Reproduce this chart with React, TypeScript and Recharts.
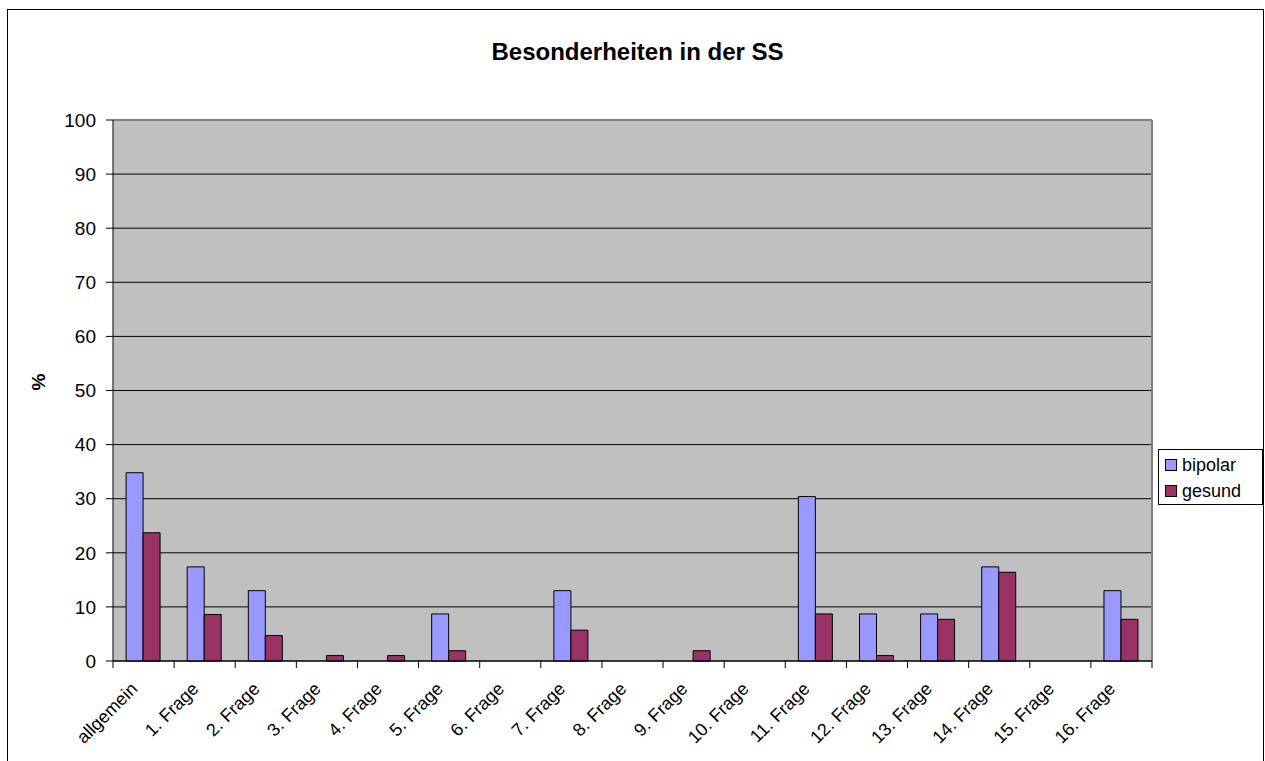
import React from "react";
import { BarChart, Bar, XAxis, YAxis, CartesianGrid } from "recharts";

// categories and values (percent)
const categories = [
  "allgemein",
  "1. Frage",
  "2. Frage",
  "3. Frage",
  "4. Frage",
  "5. Frage",
  "6. Frage",
  "7. Frage",
  "8. Frage",
  "9. Frage",
  "10. Frage",
  "11. Frage",
  "12. Frage",
  "13. Frage",
  "14. Frage",
  "15. Frage",
  "16. Frage",
];

const bipolar = [34.8, 17.4, 13.0, 0, 0, 8.7, 0, 13.0, 0, 0, 0, 30.4, 8.7, 8.7, 17.4, 0, 13.0];
const gesund = [23.7, 8.6, 4.7, 1.0, 1.0, 1.9, 0, 5.7, 0, 1.9, 0, 8.7, 1.0, 7.7, 16.4, 0, 7.7];

const yTicks = [0, 10, 20, 30, 40, 50, 60, 70, 80, 90, 100];

const data = categories.map((name, i) => ({
  name,
  bipolar: bipolar[i],
  gesund: gesund[i],
}));

const FONT = "'Liberation Sans', Arial, sans-serif";
const BIPOLAR_COLOR = "#9999FF";
const GESUND_COLOR = "#993366";

const CategoryTick = (props: any) => {
  const { x, y, payload, index } = props;
  const half = payload && payload.offset ? payload.offset : 30.5;
  const last = index === categories.length - 1;
  return (
    <g>
      <line x1={x - half} y1={y - 8} x2={x - half} y2={y - 1} stroke="#000" />
      {last && (
        <line x1={x + half} y1={y - 8} x2={x + half} y2={y - 1} stroke="#000" />
      )}
      <text
        x={x - 5}
        y={y + 21}
        transform={`rotate(-45, ${x - 5}, ${y + 21})`}
        textAnchor="end"
        fontSize={18}
        fontFamily={FONT}
        fill="#000"
      >
        {payload.value}
      </text>
    </g>
  );
};

const series = [
  { label: "bipolar", color: BIPOLAR_COLOR },
  { label: "gesund", color: GESUND_COLOR },
];

export default function App() {
  return (
    <div
      style={{
        position: "absolute",
        left: 0,
        top: 0,
        width: 1265,
        height: 761,
        overflow: "hidden",
        background: "#fff",
      }}
    >
      <div
        style={{
          position: "absolute",
          left: 7,
          top: 9,
          width: 1255,
          height: 800,
          border: "1px solid #000",
        }}
      />
      <div
        style={{
          position: "absolute",
          left: 0,
          top: 38,
          width: 1275,
          textAlign: "center",
          fontFamily: FONT,
          fontWeight: "bold",
          fontSize: 24,
          lineHeight: "28px",
        }}
      >
        Besonderheiten in der SS
      </div>
      <BarChart
        width={1265}
        height={761}
        data={data}
        margin={{ top: 120, right: 113, bottom: 0, left: 0 }}
        barCategoryGap="21.4%"
        barGap={0}
        style={{ position: "absolute", left: 0, top: 0 }}
      >
        <CartesianGrid
          vertical={false}
          stroke="#000"
          fill="#C0C0C0"
          fillOpacity={1}
        />
        <CartesianGrid
          stroke="#808080"
          strokeWidth={2}
          horizontalCoordinatesGenerator={({ offset }: any) => [offset.top]}
          verticalCoordinatesGenerator={({ offset }: any) => [offset.left + offset.width]}
        />
        <XAxis
          dataKey="name"
          height={100}
          interval={0}
          axisLine={{ stroke: "#000" }}
          tickLine={false}
          tick={<CategoryTick />}
        />
        <YAxis
          width={113}
          domain={[0, 100]}
          ticks={yTicks}
          interval={0}
          axisLine={{ stroke: "#000" }}
          tickLine={{ stroke: "#000" }}
          tickSize={7}
          tickMargin={10}
          tick={{ fontSize: 19, fill: "#000", fontFamily: FONT }}
          label={{
            value: "%",
            angle: -90,
            position: "insideLeft",
            offset: 38,
            style: { fontSize: 19, fontWeight: "bold", fill: "#000", fontFamily: FONT },
          }}
        />
        <Bar
          dataKey="bipolar"
          fill={BIPOLAR_COLOR}
          stroke="#000"
          strokeWidth={1}
          isAnimationActive={false}
        />
        <Bar
          dataKey="gesund"
          fill={GESUND_COLOR}
          stroke="#000"
          strokeWidth={1}
          isAnimationActive={false}
        />
      </BarChart>
      <div
        style={{
          position: "absolute",
          left: 1158,
          top: 449,
          width: 105,
          height: 56,
          border: "1px solid #000",
          background: "#fff",
          boxSizing: "border-box",
          padding: "2px 0 0 6px",
          fontFamily: FONT,
          fontSize: 18,
          lineHeight: "26px",
        }}
      >
        {series.map((e) => (
          <div key={e.label} style={{ display: "flex", alignItems: "center" }}>
            <span
              style={{
                display: "inline-block",
                width: 10,
                height: 10,
                background: e.color,
                border: "1px solid #000",
                marginRight: 5,
              }}
            />
            {e.label}
          </div>
        ))}
      </div>
    </div>
  );
}
